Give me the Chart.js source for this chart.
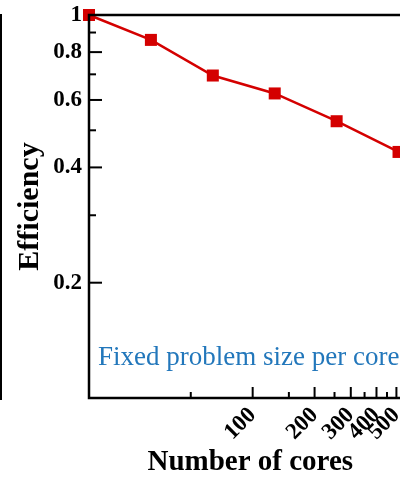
<!DOCTYPE html>
<html>
<head>
<meta charset="utf-8">
<script src="https://cdn.jsdelivr.net/npm/chart.js@4/dist/chart.umd.min.js"></script>
<style>
  html, body { margin: 0; padding: 0; background: #fff; overflow: hidden; }
  #wrap { width: 420px; height: 477px; }
</style>
</head>
<body>
<div id="wrap"><canvas id="eff-chart"></canvas></div>
<script>
// data
const cores = [16, 32, 64, 128, 256, 512];
const efficiency = [1.0, 0.861, 0.695, 0.624, 0.528, 0.439];

// tick values and which ones carry a label
const yTicks = [0.2, 0.3, 0.4, 0.5, 0.6, 0.7, 0.8, 0.9, 1];
const yLabels = [0.2, 0.4, 0.6, 0.8, 1];
const xTicks = [50, 100, 150, 200, 250, 300, 350, 400, 450, 500, 550];
const xLabels = [100, 200, 300, 400, 500];

const note = 'Fixed problem size per core';
const serif = '"Liberation Serif", "Times New Roman", serif';
const red = '#d40000';

// frame, inward ticks and the text label
const framePlugin = {
  id: 'frame',
  afterDraw(chart) {
    const {ctx, chartArea: a, scales: {x, y}} = chart;
    ctx.save();
    ctx.strokeStyle = '#000';
    ctx.lineWidth = 2;
    yTicks.forEach(v => {
      const py = y.getPixelForValue(v);
      const len = yLabels.includes(v) ? 13 : 7;
      ctx.beginPath();
      ctx.moveTo(a.left, py);
      ctx.lineTo(a.left + len, py);
      ctx.stroke();
    });
    xTicks.forEach(v => {
      const px = x.getPixelForValue(v);
      const len = xLabels.includes(v) ? 11 : 6;
      ctx.beginPath();
      ctx.moveTo(px, a.bottom);
      ctx.lineTo(px, a.bottom - len);
      ctx.stroke();
    });
    ctx.lineWidth = 2.5;
    ctx.strokeRect(a.left, a.top, a.right - a.left, a.bottom - a.top);
    // edge of the neighbouring panel
    ctx.lineWidth = 2;
    ctx.beginPath();
    ctx.moveTo(1, a.top - 1);
    ctx.lineTo(1, a.bottom + 2);
    ctx.stroke();

    ctx.fillStyle = '#2277bb';
    ctx.font = '27px ' + serif;
    ctx.textBaseline = 'alphabetic';
    ctx.fillText(note, a.left + 9, 365);
    ctx.restore();
  },
};

const data = {
  datasets: [{
    label: 'Efficiency',
    data: cores.map((c, i) => ({x: c, y: efficiency[i]})),
    borderColor: red,
    backgroundColor: red,
    borderWidth: 2.5,
    pointStyle: 'rect',
    pointRadius: 8.5,
    pointBorderWidth: 0,
    clip: false,
  }],
};

const config = {
  type: 'line',
  data,
  options: {
    responsive: true,
    maintainAspectRatio: false,
    animation: false,
    layout: {padding: {left: 12, top: 15, right: 4, bottom: 0}},
    plugins: {legend: {display: false}, tooltip: {enabled: false}},
    scales: {
      x: {
        type: 'logarithmic',
        min: 16,
        max: 592,
        border: {display: false},
        grid: {display: false, drawTicks: false},
        afterBuildTicks: s => { s.ticks = xTicks.map(v => ({value: v})); },
        afterFit: s => { s.height = 79; s.paddingLeft = 0; s.paddingRight = 0; },
        ticks: {
          autoSkip: false,
          minRotation: 45,
          maxRotation: 45,
          padding: 4,
          color: '#000',
          font: {family: serif, size: 23, weight: 'bold'},
          callback: v => xLabels.includes(v) ? String(v) : '',
        },
        title: {
          display: true,
          text: 'Number of cores',
          color: '#000',
          padding: 0,
          font: {family: serif, size: 29, weight: 'bold', lineHeight: 1},
        },
      },
      y: {
        type: 'logarithmic',
        min: 0.1,
        max: 1,
        border: {display: false},
        grid: {display: false, drawTicks: false},
        afterBuildTicks: s => { s.ticks = yTicks.map(v => ({value: v})); },
        afterFit: s => { s.width = 77; s.paddingTop = 0; s.paddingBottom = 0; },
        ticks: {
          padding: 7,
          color: '#000',
          font: {family: serif, size: 23, weight: 'bold'},
          callback: v => yLabels.includes(v) ? String(v) : '',
        },
        title: {
          display: true,
          text: 'Efficiency',
          color: '#000',
          padding: 0,
          font: {family: serif, size: 30, weight: 'bold'},
        },
      },
    },
  },
  plugins: [framePlugin],
};

new Chart(document.querySelector('#eff-chart'), config);
</script>
</body>
</html>
